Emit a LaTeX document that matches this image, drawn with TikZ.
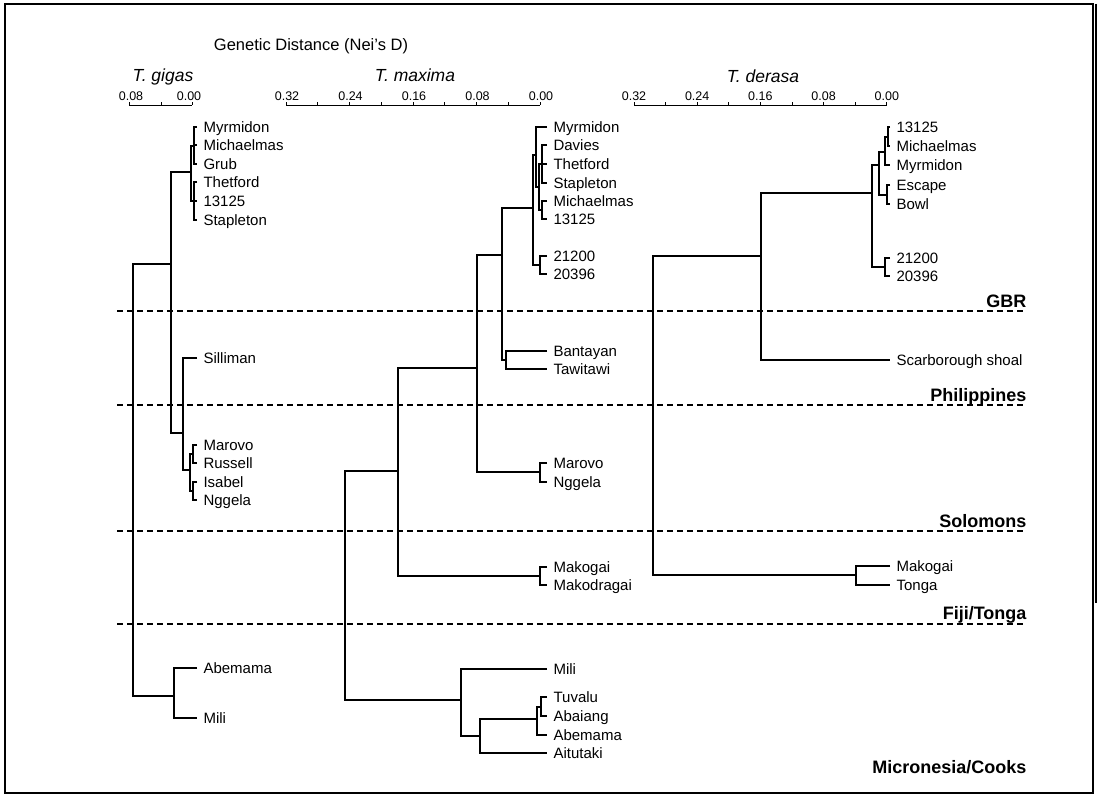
\documentclass[tikz,border=0pt]{standalone}
\usepackage{fontspec}
\setmainfont{Liberation Sans}
\begin{document}
\begin{tikzpicture}[x=1pt,y=-1pt,line width=1.1pt,
  leaf/.style={anchor=west,inner xsep=6pt,inner ysep=0pt,text height=10.5pt,text depth=0pt,font=\fontsize{15}{15}\selectfont},
  region/.style={anchor=base east,inner sep=0pt,font=\fontsize{18}{18}\selectfont\bfseries},
  species/.style={anchor=base,inner sep=0pt,font=\fontsize{17.5}{17.5}\selectfont\itshape},
  ticklab/.style={anchor=base,inner sep=0pt,font=\fontsize{12.5}{12.5}\selectfont},
  sep/.style={line width=1.2pt,dash pattern=on 6pt off 4pt},
  axis/.style={line width=0.9pt}]
\useasboundingbox (0,0) rectangle (1102,794);
\draw[line width=1.5pt] (5,4) rectangle (1093,793);
\draw[line width=1.3pt] (1096,4) -- (1096,603);

% title and axes
\node[anchor=base,inner sep=0pt,font=\fontsize{16.5}{16.5}\selectfont] (title) at (311,51) {Genetic Distance (Nei's D)};
\node[species] (sg) at (163,82) {T. gigas};
\node[species] (sm) at (415,82) {T. maxima};
\node[species] (sd) at (763,83) {T. derasa};

\draw[axis] (129,105) -- (192,105);
\foreach \x in {129,161,192} \draw[axis] (\x,105) -- (\x,102);
\node[ticklab] at (131,101) {0.08};
\node[ticklab] at (189,101) {0.00};

\draw[axis] (286,105) -- (540,105);
\foreach \i in {0,...,8} \draw[axis] ({286+31.75*\i},105) -- ({286+31.75*\i},102);
\foreach \i/\l in {0/0.32,2/0.24,4/0.16,6/0.08,8/0.00} \node[ticklab] at ({287+31.75*\i},101) {\l};

\draw[axis] (634,105) -- (887,105);
\foreach \i in {0,...,8} \draw[axis] ({634+31.6*\i},105) -- ({634+31.6*\i},102);
\foreach \i/\l in {0/0.32,2/0.24,4/0.16,6/0.08,8/0.00} \node[ticklab] at ({634+31.6*\i},101) {\l};

% region separators and labels
\foreach \y in {311,405,531,624} \draw[sep] (117,\y) -- (1025,\y);
\node[region] (rG) at (1027,307) {GBR};
\node[region] (rP) at (1027,401) {Philippines};
\node[region] (rS) at (1027,527) {Solomons};
\node[region] (rF) at (1027,619) {Fiji/Tonga};
\node[region] (rM) at (1027,773) {Micronesia/Cooks};

% ---------------- T. gigas ----------------
\node[leaf] (gMyr) at (197,127) {Myrmidon};
\node[leaf] (gMic) at (197,145) {Michaelmas};
\node[leaf] (gGrub) at (197,164) {Grub};
\node[leaf] (gThe) at (197,182) {Thetford};
\node[leaf] (g131) at (197,201) {13125};
\node[leaf] (gSta) at (197,220) {Stapleton};
\node[leaf] (gSil) at (197,358) {Silliman};
\node[leaf] (gMar) at (197,445) {Marovo};
\node[leaf] (gRus) at (197,463) {Russell};
\node[leaf] (gIsa) at (197,482) {Isabel};
\node[leaf] (gNgg) at (197,500) {Nggela};
\node[leaf] (gAbe) at (197,668) {Abemama};
\node[leaf] (gMili) at (197,718) {Mili};
\coordinate (g1) at (194,146);
\coordinate (g2) at (194,201);
\coordinate (g3) at (191,172);
\coordinate (g4) at (193,454);
\coordinate (g5) at (193,491);
\coordinate (g6) at (190,470);
\coordinate (g7) at (183,433);
\coordinate (g8) at (171,264);
\coordinate (g9) at (174,696);
\coordinate (g0) at (133,480);
\draw (gMyr.west) -| (g1) |- (gGrub.west);
\draw (g1 |- gMic.west) -- (gMic.west);
\draw (gThe.west) -| (g2) |- (gSta.west);
\draw (g2 |- g131.west) -- (g131.west);
\draw (g1) -| (g3) |- (g2);
\draw (gMar.west) -| (g4) |- (gRus.west);
\draw (gIsa.west) -| (g5) |- (gNgg.west);
\draw (g4) -| (g6) |- (g5);
\draw (gSil.west) -| (g7) |- (g6);
\draw (g3) -| (g8) |- (g7);
\draw (gAbe.west) -| (g9) |- (gMili.west);
\draw (g8) -| (g0) |- (g9);

% ---------------- T. maxima ----------------
\node[leaf] (mMyr) at (547,127) {Myrmidon};
\node[leaf] (mDav) at (547,145) {Davies};
\node[leaf] (mThe) at (547,164) {Thetford};
\node[leaf] (mSta) at (547,183) {Stapleton};
\node[leaf] (mMic) at (547,201) {Michaelmas};
\node[leaf] (m131) at (547,219) {13125};
\node[leaf] (m212) at (547,256) {21200};
\node[leaf] (m203) at (547,274) {20396};
\node[leaf] (mBan) at (547,351) {Bantayan};
\node[leaf] (mTaw) at (547,369) {Tawitawi};
\node[leaf] (mMar) at (547,463) {Marovo};
\node[leaf] (mNgg) at (547,482) {Nggela};
\node[leaf] (mMak) at (547,567) {Makogai};
\node[leaf] (mMkd) at (547,585) {Makodragai};
\node[leaf] (mMili) at (547,669) {Mili};
\node[leaf] (mTuv) at (547,697) {Tuvalu};
\node[leaf] (mAba) at (547,716) {Abaiang};
\node[leaf] (mAbe) at (547,735) {Abemama};
\node[leaf] (mAit) at (547,753) {Aitutaki};
\coordinate (m1) at (542,164);
\coordinate (m2) at (542,210);
\coordinate (m3) at (539,187);
\coordinate (m4) at (536,155);
\coordinate (m5) at (540,265);
\coordinate (m6) at (533,208);
\coordinate (m7) at (506,360);
\coordinate (m8) at (502,255);
\coordinate (m9) at (540,472);
\coordinate (m10) at (477,368);
\coordinate (m11) at (540,576);
\coordinate (m12) at (398,471);
\coordinate (m13) at (541,707);
\coordinate (m14) at (537,719);
\coordinate (m15) at (480,736);
\coordinate (m16) at (461,700);
\coordinate (m0) at (345,600);
\draw (mDav.west) -| (m1) |- (mSta.west);
\draw (m1 |- mThe.west) -- (mThe.west);
\draw (mMic.west) -| (m2) |- (m131.west);
\draw (m1) -| (m3) |- (m2);
\draw (mMyr.west) -| (m4) |- (m3);
\draw (m212.west) -| (m5) |- (m203.west);
\draw (m4) -| (m6) |- (m5);
\draw (mBan.west) -| (m7) |- (mTaw.west);
\draw (m6) -| (m8) |- (m7);
\draw (mMar.west) -| (m9) |- (mNgg.west);
\draw (m8) -| (m10) |- (m9);
\draw (mMak.west) -| (m11) |- (mMkd.west);
\draw (m10) -| (m12) |- (m11);
\draw (mTuv.west) -| (m13) |- (mAba.west);
\draw (m13) -| (m14) |- (mAbe.west);
\draw (m14) -| (m15) |- (mAit.west);
\draw (mMili.west) -| (m16) |- (m15);
\draw (m12) -| (m0) |- (m16);

% ---------------- T. derasa ----------------
\node[leaf] (d131) at (890,127) {13125};
\node[leaf] (dMic) at (890,146) {Michaelmas};
\node[leaf] (dMyr) at (890,165) {Myrmidon};
\node[leaf] (dEsc) at (890,185) {Escape};
\node[leaf] (dBow) at (890,204) {Bowl};
\node[leaf] (d212) at (890,258) {21200};
\node[leaf] (d203) at (890,276) {20396};
\node[leaf] (dSca) at (890,360) {Scarborough shoal};
\node[leaf] (dMak) at (890,566) {Makogai};
\node[leaf] (dTon) at (890,585) {Tonga};
\coordinate (d1) at (888,137);
\coordinate (d2) at (885,152);
\coordinate (d3) at (887,195);
\coordinate (d4) at (879,165);
\coordinate (d5) at (885,267);
\coordinate (d6) at (872,193);
\coordinate (d7) at (761,256);
\coordinate (d8) at (856,575);
\coordinate (d0) at (653,400);
\draw (d131.west) -| (d1) |- (dMic.west);
\draw (d1) -| (d2) |- (dMyr.west);
\draw (dEsc.west) -| (d3) |- (dBow.west);
\draw (d2) -| (d4) |- (d3);
\draw (d212.west) -| (d5) |- (d203.west);
\draw (d4) -| (d6) |- (d5);
\draw (d6) -| (d7) |- (dSca.west);
\draw (dMak.west) -| (d8) |- (dTon.west);
\draw (d7) -| (d0) |- (d8);
\end{tikzpicture}
\end{document}
